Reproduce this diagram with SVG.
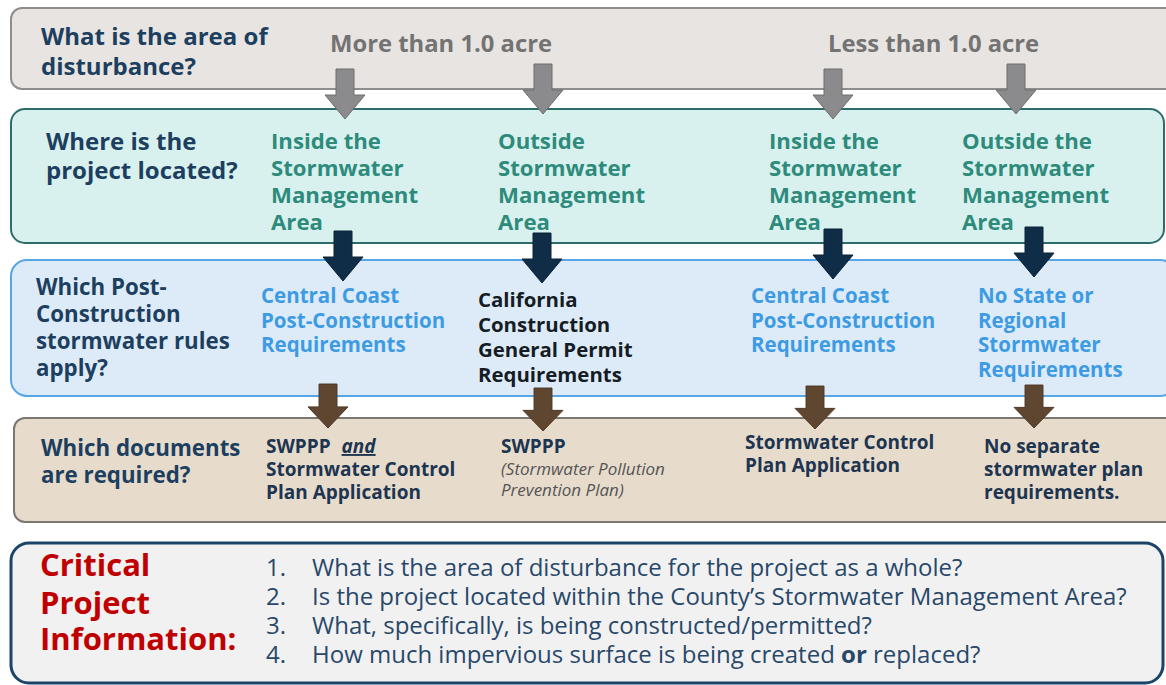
<svg xmlns="http://www.w3.org/2000/svg" width="1166" height="685" viewBox="0 0 1166 685">
<style>
text{font-family:"Open Sans","Liberation Sans",sans-serif;}
.q{font-weight:700;fill:#1d3f5f;font-size:24px;}
.q2{font-weight:700;fill:#1d3f5f;font-size:22.3px;}
.acre{font-weight:700;fill:#737373;font-size:23.8px;}
.loc{font-weight:700;fill:#2e8b7c;font-size:22.2px;}
.rule{font-weight:700;fill:#3d9be3;font-size:20.5px;}
.rule2{font-weight:700;fill:#151c24;font-size:20.4px;}
.doc{font-weight:700;fill:#1d3550;font-size:19px;}
.docit{font-style:italic;fill:#555;font-size:17px;}
.crit{font-weight:700;fill:#c00000;font-size:31px;}
.li{fill:#28486a;font-size:24px;}
.ga{fill:#8b8b8d;stroke:#6e6e6e;stroke-width:1;}
.na{fill:#0f2d47;stroke:#0a2236;stroke-width:1;}
.ba{fill:#5e4630;stroke:#4c3825;stroke-width:1;}
</style>
<defs>
<path id="arr" d="M-9,0 H9 V26 H20 L0,50 L-20,26 H-9 Z"/>
</defs>

<g id="row1">
<rect x="11" y="8" width="1165" height="81" rx="11" fill="#e8e4e1" stroke="#8d8d8d" stroke-width="2"/>
<text class="q" x="41" y="45">What is the area of<tspan x="41" dy="30">disturbance?</tspan></text>
<text class="acre" x="330" y="52">More than 1.0 acre</text>
<text class="acre" x="828" y="52">Less than 1.0 acre</text>
</g>

<g id="row2">
<rect x="11" y="109" width="1153" height="134" rx="14" fill="#d8f1ee" stroke="#2d6d69" stroke-width="2"/>
<text class="q" x="46" y="150">Where is the<tspan x="46" dy="29">project located?</tspan></text>
<text class="loc" x="271" y="149">Inside the<tspan x="271" dy="27">Stormwater</tspan><tspan x="271" dy="27">Management</tspan><tspan x="271" dy="27">Area</tspan></text>
<text class="loc" x="498" y="149">Outside<tspan x="498" dy="27">Stormwater</tspan><tspan x="498" dy="27">Management</tspan><tspan x="498" dy="27">Area</tspan></text>
<text class="loc" x="769" y="149">Inside the<tspan x="769" dy="27">Stormwater</tspan><tspan x="769" dy="27">Management</tspan><tspan x="769" dy="27">Area</tspan></text>
<text class="loc" x="962" y="149">Outside the<tspan x="962" dy="27">Stormwater</tspan><tspan x="962" dy="27">Management</tspan><tspan x="962" dy="27">Area</tspan></text>
</g>

<g id="row3">
<rect x="11" y="260" width="1165" height="136" rx="16" fill="#ddebf8" stroke="#55a6e6" stroke-width="2"/>
<text class="q2" x="36" y="295">Which Post-<tspan x="36" dy="27">Construction</tspan><tspan x="36" dy="27">stormwater rules</tspan><tspan x="36" dy="27">apply?</tspan></text>
<text class="rule" x="261" y="303">Central Coast<tspan x="261" dy="25">Post-Construction</tspan><tspan x="261" dy="24">Requirements</tspan></text>
<text class="rule2" x="478" y="307">California<tspan x="478" dy="25">Construction</tspan><tspan x="478" dy="25">General Permit</tspan><tspan x="478" dy="25">Requirements</tspan></text>
<text class="rule" x="751" y="303">Central Coast<tspan x="751" dy="25">Post-Construction</tspan><tspan x="751" dy="24">Requirements</tspan></text>
<text class="rule" x="978" y="303">No State or<tspan x="978" dy="25">Regional</tspan><tspan x="978" dy="24">Stormwater</tspan><tspan x="978" dy="25">Requirements</tspan></text>
</g>

<g id="row4">
<rect x="14" y="418" width="1165" height="104" rx="11" fill="#e7dbcc" stroke="#7a7672" stroke-width="2"/>
<text class="q2" x="41" y="456">Which documents<tspan x="41" dy="27">are required?</tspan></text>
<text class="doc" x="266" y="453">SWPPP <tspan dx="6" font-style="italic" text-decoration="underline">and</tspan><tspan x="266" dy="23">Stormwater Control</tspan><tspan x="266" dy="23">Plan Application</tspan></text>
<text x="501" y="453"><tspan class="doc">SWPPP</tspan><tspan class="docit" x="501" dy="22">(Stormwater Pollution</tspan><tspan class="docit" x="501" dy="21">Prevention Plan)</tspan></text>
<text class="doc" x="745" y="449">Stormwater Control<tspan x="745" dy="23">Plan Application</tspan></text>
<text class="doc" x="984" y="453">No separate<tspan x="984" dy="23">stormwater plan</tspan><tspan x="984" dy="23">requirements.</tspan></text>
</g>

<g id="info">
<rect x="11" y="543" width="1152" height="140" rx="18" fill="#f1f1f1" stroke="#1c4468" stroke-width="3"/>
<text class="crit" x="40" y="576">Critical<tspan x="40" dy="38">Project</tspan><tspan x="40" dy="36">Information:</tspan></text>
<text class="li" x="266" y="576">1.<tspan x="312">What is the area of disturbance for the project as a whole?</tspan><tspan x="266" dy="29">2.</tspan><tspan x="312">Is the project located within the County’s Stormwater Management Area?</tspan><tspan x="266" dy="29">3.</tspan><tspan x="312">What, specifically, is being constructed/permitted?</tspan><tspan x="266" dy="29">4.</tspan><tspan x="312">How much impervious surface is being created </tspan><tspan font-weight="700">or</tspan><tspan> replaced?</tspan></text>
</g>

<g id="connectors">
<use href="#arr" class="ga" transform="translate(345,69)"/>
<use href="#arr" class="ga" transform="translate(543,64)"/>
<use href="#arr" class="ga" transform="translate(833,69)"/>
<use href="#arr" class="ga" transform="translate(1016,64)"/>
<use href="#arr" class="na" transform="translate(343,231)"/>
<use href="#arr" class="na" transform="translate(542,233)"/>
<use href="#arr" class="na" transform="translate(833,229)"/>
<use href="#arr" class="na" transform="translate(1034,227)"/>
<use href="#arr" class="ba" transform="translate(328,384) scale(1,0.88)"/>
<use href="#arr" class="ba" transform="translate(543,388) scale(1,0.86)"/>
<use href="#arr" class="ba" transform="translate(815,386) scale(1,0.86)"/>
<use href="#arr" class="ba" transform="translate(1034,385) scale(1,0.86)"/>
</g>
</svg>
